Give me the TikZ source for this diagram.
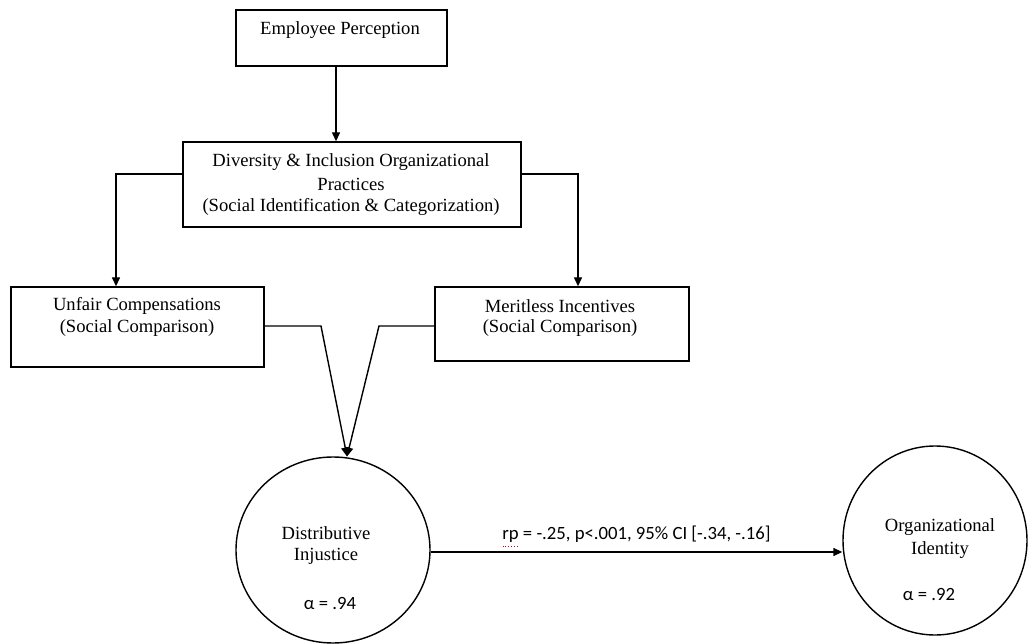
\documentclass[tikz,border=0pt]{standalone}
\usepackage{fontspec}
\setmainfont{Liberation Serif}
\newfontfamily\calib{Carlito}
\usetikzlibrary{arrows.meta,calc,shapes.geometric}
\begin{document}
\begin{tikzpicture}[x=1pt,y=-1pt,
  line width=1.4pt,
  box/.style={draw, rectangle, inner sep=0pt, line width=1.4pt},
  circ/.style={draw, ellipse, inner sep=0pt, line width=1.4pt},
  txt/.style={inner sep=0pt, align=center, font=\fontsize{18.6}{22}\selectfont},
  sans/.style={inner sep=0pt, font=\calib\fontsize{18.7}{22}\selectfont},
  arr/.style={-{Triangle[length=9pt,width=8pt]}, line width=1.4pt}
]
\useasboundingbox (0,0) rectangle (1028,644);
\fill[white] (0,0) rectangle (1028,644);
% boxes
\node[box, minimum width=211pt, minimum height=56pt] (EP) at (341.5,38) {};
\node[box, minimum width=338pt, minimum height=85pt] (DI) at (352,184.5) {};
\node[box, minimum width=253pt, minimum height=80pt] (UC) at (137.5,327) {};
\node[box, minimum width=254pt, minimum height=74pt] (MI) at (562,324) {};
% ellipses
\node[circ, minimum width=194pt, minimum height=186pt] (DJ) at (333,550) {};
\node[circ, minimum width=184pt, minimum height=189pt] (OI) at (935,540.5) {};
% texts
\node[txt] (tEP) at (340,30) {Employee Perception};
\node[txt] (tDI1) at (351,162) {Diversity \& Inclusion Organizational};
\node[txt] (tDI2) at (351,184) {Practices};
\node[txt] (tDI3) at (351,207) {(Social Identification \& Categorization)};
\node[txt] (tUC1) at (137,306) {Unfair Compensations};
\node[txt] (tUC2) at (137,328) {(Social Comparison)};
\node[txt] (tMI1) at (560,306) {Meritless Incentives};
\node[txt] (tMI2) at (560,328) {(Social Comparison)};
\node[txt] (tDJ1) at (326,533) {Distributive};
\node[txt] (tDJ2) at (326,556) {Injustice};
\node[sans] (aDJ) at (330,604) {α = .94};
\node[txt] (tOI1) at (940,527) {Organizational};
\node[txt] (tOI2) at (940,550) {Identity};
\node[sans] (aOI) at (929,595) {α = .92};
% helper coordinates
\coordinate (x336) at (336,0);
\coordinate (yDI) at (0,174);
\coordinate (bendL) at (116,174);
\coordinate (bendR) at (578,174);
\coordinate (yC) at (0,326);
\coordinate (kUC) at (321,326);
\coordinate (kMI) at (379,326);
\coordinate (tipDJ) at (347,456.5);
\coordinate (yR) at (0,552);
% connectors
\draw[arr] (EP.south -| x336) -- (DI.north -| x336);
\draw[arr] (DI.west |- yDI) -- (bendL) -- (UC.north -| bendL);
\draw[arr] (DI.east |- yDI) -- (bendR) -- (MI.north -| bendR);
\draw[arr] (UC.east |- yC) -- (kUC) -- (tipDJ);
\draw[arr] (MI.west |- yC) -- (kMI) -- (tipDJ);
\draw[arr] (DJ.east |- yR) -- node[sans, above=9pt] (lab) {rp = -.25, p<.001, 95\% CI [-.34, -.16]} (OI.west |- yR);
\draw[red!80!black, line width=0.8pt, dotted] ($(lab.south west)+(1,3)$) -- ++(16,0);
\end{tikzpicture}
\end{document}
